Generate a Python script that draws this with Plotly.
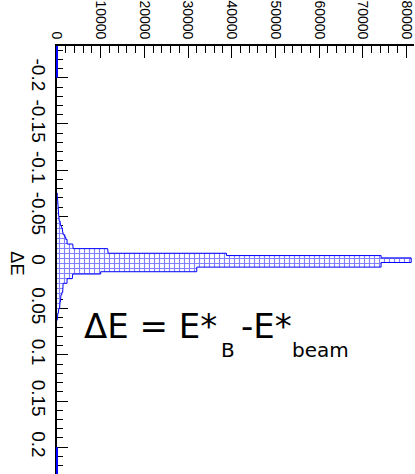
import plotly.graph_objects as go

# ---- data ----
bin_width = 0.0025
first_bin_index = -30  # lower edge of first bin = first_bin_index * bin_width
counts = [80, 100, 150, 200, 200, 250, 300, 300, 350, 400,
          450, 500, 700, 800, 1000, 1200, 1300, 1400, 1800, 2000,
          2300, 2300, 3600, 3700, 11600, 11700, 38800, 74200, 81100, 81100,
          74200, 74200, 32000, 32000, 10000, 3600, 3500, 2300, 2300, 1400,
          1400, 1300, 1300, 1100, 900, 900, 800, 700, 700, 600,
          400, 300, 200, 100, 50]
de_tickvals = [-0.2, -0.15, -0.1, -0.05, 0, 0.05, 0.1, 0.15, 0.2]
de_ticktext = ["-0.2", "-0.15", "-0.1", "-0.05", "0", "0.05", "0.1", "0.15", "0.2"]
count_tickvals = [0, 10000, 20000, 30000, 40000, 50000, 60000, 70000, 80000]
count_ticktext = ["0", "10000", "20000", "30000", "40000", "50000", "60000", "70000", "80000"]

# ---- step outline from bins ----
edges = [(first_bin_index + i) * bin_width for i in range(len(counts) + 1)]
xs, ys = [0], [edges[0]]
for i, c in enumerate(counts):
    xs += [c, c]
    ys += [edges[i], edges[i + 1]]
xs.append(0)
ys.append(edges[-1])

W, H = 415, 474
L, T = 57, 43
y_top, y_bot = -0.2344, 0.2290
x_max = 81740


def px(xpix):  # pixel x -> paper x
    return (xpix - L) / (W - L)


def py(ypix):  # pixel y -> paper y
    return (H - ypix) / (H - T)


fig = go.Figure()
fig.add_trace(go.Scatter(
    x=xs, y=ys, mode="lines", fill="toself",
    line=dict(color="#0000ff", width=1),
    fillcolor="white",
    fillpattern=dict(shape="+", size=5, solidity=0.4, fgcolor="#0000ff", bgcolor="white"),
    hoverinfo="skip", showlegend=False,
))

narrow = "Liberation Sans Narrow, Liberation Sans, Arial"
big = "DejaVu Sans, Liberation Sans, Arial"

fig.update_layout(
    width=W, height=H,
    margin=dict(l=L, r=0, t=T, b=0, pad=0),
    paper_bgcolor="white", plot_bgcolor="white",
    showlegend=False,
    xaxis=dict(
        side="top", range=[0, x_max], showgrid=False, zeroline=False,
        showline=True, linecolor="black", linewidth=1.5,
        ticks="inside", ticklen=12, tickwidth=1, tickcolor="black",
        tickvals=count_tickvals, ticktext=count_ticktext, tickangle=90,
        tickfont=dict(family=narrow, size=14, color="black"),
        ticklabeloverflow="allow",
        minor=dict(ticks="inside", ticklen=7, dtick=2000, tickcolor="black", tickwidth=1),
        layer="below traces",
    ),
    yaxis=dict(
        range=[y_bot, y_top], showgrid=False, zeroline=False,
        showline=True, linecolor="black", linewidth=2,
        ticks="inside", ticklen=11, tickwidth=1, tickcolor="black",
        tickvals=de_tickvals, ticktext=de_ticktext, tickangle=90,
        tickfont=dict(family=narrow, size=19, color="black"),
        ticklabeloverflow="allow",
        minor=dict(ticks="inside", ticklen=6, dtick=0.01, tickcolor="black", tickwidth=1),
        layer="below traces",
    ),
    shapes=[
        dict(type="line", xref="paper", yref="y", x0=0, x1=0, y0=y_top, y1=-0.2,
             line=dict(color="#0000ff", width=2)),
        dict(type="line", xref="paper", yref="y", x0=0, x1=0, y0=0.2, y1=y_bot,
             line=dict(color="#0000ff", width=2)),
    ],
    annotations=[
        dict(text="ΔE", xref="paper", yref="paper", x=px(16), y=py(262),
             showarrow=False, textangle=90, xanchor="center", yanchor="middle",
             font=dict(family=narrow, size=18, color="black")),
        dict(text="ΔE = E*", xref="paper", yref="paper", x=px(82), y=py(325),
             showarrow=False, xanchor="left", yanchor="middle",
             font=dict(family=big, size=34, color="black")),
        dict(text="B", xref="paper", yref="paper", x=px(219), y=py(349),
             showarrow=False, xanchor="left", yanchor="middle",
             font=dict(family=big, size=20, color="black")),
        dict(text="-E*", xref="paper", yref="paper", x=px(240), y=py(325),
             showarrow=False, xanchor="left", yanchor="middle",
             font=dict(family=big, size=34, color="black")),
        dict(text="beam", xref="paper", yref="paper", x=px(291), y=py(349),
             showarrow=False, xanchor="left", yanchor="middle",
             font=dict(family=big, size=20, color="black")),
    ],
)

fig.write_html("out.html")
